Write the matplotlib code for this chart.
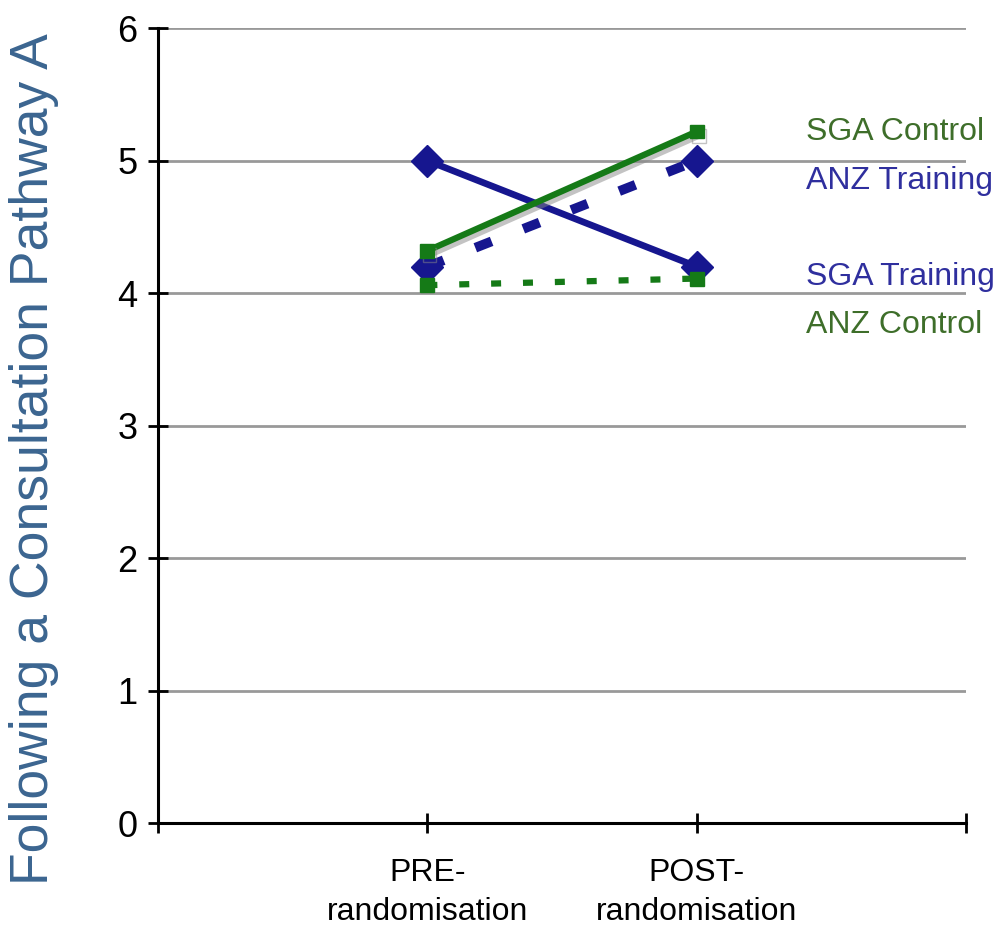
import matplotlib
matplotlib.use('Agg')
import matplotlib.pyplot as plt
import matplotlib.patheffects as pe

# data
categories = ['PRE-\nrandomisation', 'POST-\nrandomisation']
x_pos = [1, 2]
sga_control = [4.32, 5.22]
anz_training = [4.2, 5.0]
sga_training = [5.0, 4.2]
anz_control = [4.06, 4.11]

green = '#157a17'
blue = '#16168f'

plt.rcParams['font.family'] = ['Liberation Sans', 'DejaVu Sans']

fig = plt.figure(figsize=(9.97, 9.39), dpi=100)
ax = fig.add_axes([0.1585, 0.1235, 0.8105, 0.8465])

shadow = [pe.SimpleLineShadow(offset=(1.5, -3), shadow_color='#888888', alpha=0.5), pe.Normal()]
ax.plot(x_pos, sga_control, color=green, lw=4.5, marker='s', ms=10, zorder=4, path_effects=shadow)
ax.plot(x_pos, anz_training, color=blue, lw=7, ls=(0, (1.8, 3.5)), marker='D', ms=16, zorder=3)
ax.plot(x_pos, sga_training, color=blue, lw=4.8, marker='D', ms=16, zorder=3)
ax.plot(x_pos, anz_control, color=green, lw=4.5, ls=(0, (1.6, 3.5)), marker='s', ms=10, zorder=3)

ax.set_xlim(0, 3)
ax.set_ylim(0, 6)
ax.set_xticks([0, 1, 2, 3])
ax.set_xticklabels([''] + categories + [''], fontsize=23, linespacing=1.4)
ax.set_yticks(range(7))
ax.set_yticklabels([str(i) for i in range(7)], fontsize=26)
ax.yaxis.grid(True, color='#999999', lw=2)
ax.set_axisbelow(True)
for s in ['top', 'right']:
    ax.spines[s].set_visible(False)
for s in ['left', 'bottom']:
    ax.spines[s].set_linewidth(2.2)
ax.tick_params(axis='y', direction='inout', length=14, width=2, pad=8)
ax.tick_params(axis='x', direction='inout', length=14, width=2, pad=18)

fig.text(0.034, 1 - 459 / 939, 'Following a Consultation Pathway A', fontsize=38.5,
         color='#3b6590', rotation=90, ha='center', va='center')

lab_green = '#3e6e2a'
lab_blue = '#2f2f9e'
fig.text(0.808, 0.859, 'SGA Control', color=lab_green, fontsize=23, va='center')
fig.text(0.808, 0.807, 'ANZ Training', color=lab_blue, fontsize=23, va='center')
fig.text(0.808, 0.705, 'SGA Training', color=lab_blue, fontsize=23, va='center')
fig.text(0.808, 0.654, 'ANZ Control', color=lab_green, fontsize=23, va='center')

fig.savefig('out.png', dpi=100)
